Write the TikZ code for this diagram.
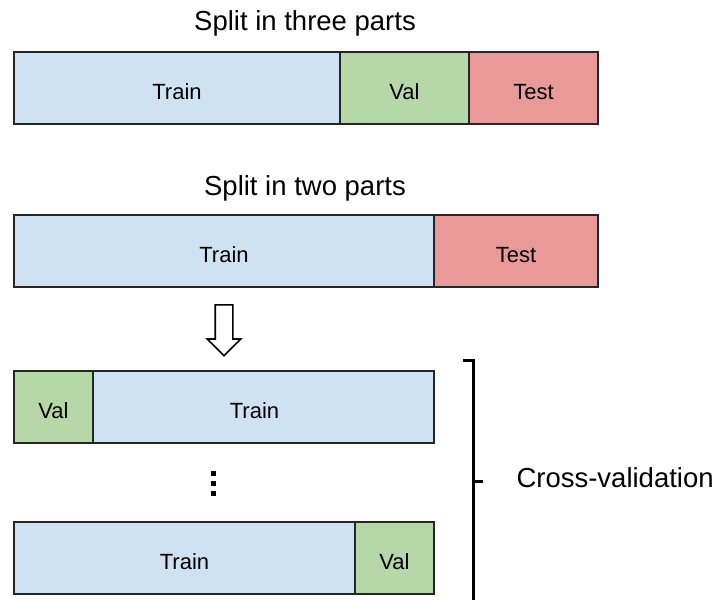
\documentclass[tikz,border=0pt]{standalone}
\usepackage{fontspec}
\setmainfont{Liberation Sans}
\usetikzlibrary{calc,shapes.arrows}

\definecolor{trainblue}{HTML}{CFE2F3}
\definecolor{valgreen}{HTML}{B6D7A8}
\definecolor{testred}{HTML}{EA9999}

\begin{document}
\begin{tikzpicture}[x=1pt,y=-1pt,
    seg/.style={draw=black!85,line width=1.4pt,inner sep=0pt,outer sep=0pt,
      minimum height=72pt,anchor=north west,text height=23pt,text depth=0pt,
      font=\fontsize{22}{26}\selectfont},
    heading/.style={font=\fontsize{27.5}{32}\selectfont,anchor=base},
    blockarrow/.style={draw,line width=1.6pt,fill=white,single arrow,rotate=-90,
      minimum height=51pt,minimum width=32pt,inner xsep=0pt,inner ysep=8pt,
      single arrow head extend=8pt,single arrow head indent=0pt},
    dotsq/.style={fill=black,inner sep=0pt,minimum size=5pt}]
  \useasboundingbox (0,0) rectangle (715,600);
  % ---------------- bars: name/top/{left/width/label/colour} ----------------
  \foreach \b/\y/\segs in {a/52/{14/326/Train/trainblue,340/129/Val/valgreen,469/129/Test/testred},
                           b/215/{14/420/Train/trainblue,434/164/Test/testred},
                           c/371/{14/79/Val/valgreen,93/341/Train\hspace*{18pt}/trainblue},
                           d/522/{14/341/Train/trainblue,355/79/Val/valgreen}}{
    \foreach \x/\w/\lab/\col [count=\i] in \segs {
      \node[seg,fill=\col,minimum width=\w pt] (\b\i) at (\x,\y) {\lab};
    }
  }
  \node[heading] (ttla) at (305,30) {Split in three parts};
  \node[heading] (ttlb) at (305,195) {Split in two parts};
  % ---------------- two parts -> folds ----------------
  \node[blockarrow,anchor=west] (arr) at ($(b1.south)+(0,17)$) {};
  \foreach \k/\yy in {1/473,2/483,3/493}
    \node[dotsq] (dot\k) at (213,\yy) {};
  % ---------------- bracket ----------------
  \node[heading,anchor=base west] (cv) at (513,487) {Cross-validation};
  \coordinate (brtop) at (463,360);
  \coordinate (brbot) at (473,600);
  \coordinate (brmid) at (473,481);
  \draw[line width=3pt] (brtop) -- (brtop -| brbot) -- (brbot);
  \draw[line width=3pt] (brmid) -- ++(10,0);
\end{tikzpicture}
\end{document}
